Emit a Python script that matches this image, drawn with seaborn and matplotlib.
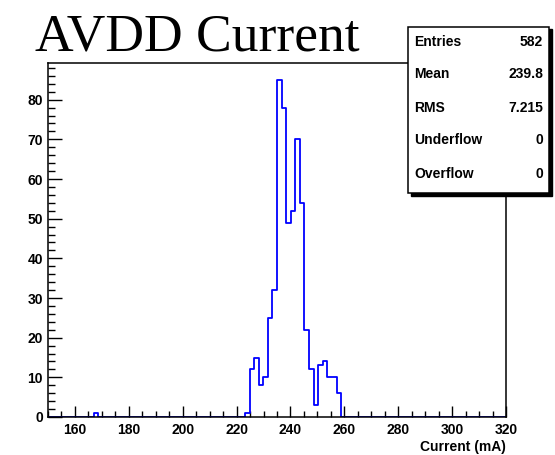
import matplotlib
matplotlib.use("Agg")
import matplotlib.pyplot as plt
import seaborn as sns
import numpy as np
import pandas as pd
from matplotlib.patches import Rectangle
from matplotlib.ticker import MultipleLocator

# ---- data ----
title = "AVDD Current"
x_label = "Current (mA)"
hist_range = (150, 320)
n_bins = 100
bin_centers = [167.85,
               223.95, 225.65, 227.35, 229.05, 230.75, 232.45, 234.15,
               235.85, 237.55, 239.25, 240.95, 242.65, 244.35, 246.05,
               247.75, 249.45, 251.15, 252.85, 254.55, 256.25, 257.95]
counts = [1,
          1, 12, 15, 8, 10, 25, 32,
          85, 78, 49, 52, 70, 54, 22,
          12, 3, 13, 14, 10, 10, 6]
stats_names = ["Entries", "Mean", "RMS", "Underflow", "Overflow"]
stats_values = ["582", "239.8", "7.215", "0", "0"]
x_ticks = [160, 180, 200, 220, 240, 260, 280, 300, 320]
y_ticks = [0, 10, 20, 30, 40, 50, 60, 70, 80]

# ---- style ----
sns.set_theme(style="white")
plt.rcParams['font.family'] = ['Liberation Sans', 'DejaVu Sans']

W, H = 555, 455
fig = plt.figure(figsize=(W / 100, H / 100), dpi=100)
fig.patch.set_facecolor("white")

ax_l, ax_r, ax_t, ax_b = 48, 506, 63, 417
ax = fig.add_axes([ax_l / W, (H - ax_b) / H, (ax_r - ax_l) / W, (ax_b - ax_t) / H])

df = pd.DataFrame({"current": bin_centers, "count": counts})
sns.histplot(data=df, x="current", weights="count", bins=n_bins,
             binrange=hist_range, element="step", fill=False,
             color="#0000ff", linewidth=1.3, ax=ax)

ax.set_xlim(*hist_range)
ax.set_ylim(0, max(counts) * 1.05)
ax.set_ylabel("")
ax.set_xticks(x_ticks)
ax.set_yticks(y_ticks)
ax.xaxis.set_minor_locator(MultipleLocator(5))
ax.yaxis.set_minor_locator(MultipleLocator(2))
ax.tick_params(axis='x', which='major', direction='in', length=8, width=1,
               color='black', labelsize=10, pad=4.5, bottom=True, top=False)
ax.tick_params(axis='x', which='minor', direction='in', length=4, width=1,
               color='black', bottom=True, top=False)
ax.tick_params(axis='y', which='major', direction='in', length=10, width=1,
               color='black', labelsize=10, pad=3.6, left=True, right=False)
ax.tick_params(axis='y', which='minor', direction='in', length=5, width=1,
               color='black', left=True, right=False)
for lab in ax.get_xticklabels() + ax.get_yticklabels():
    lab.set_fontweight('bold')
    lab.set_color('black')
for sp in ax.spines.values():
    sp.set_color('black')
    sp.set_linewidth(1.1)
    sp.set_visible(True)
ax.grid(False)

ax.set_xlabel(x_label, loc='right', fontsize=10, fontweight='bold',
              color='black', labelpad=2)

# ---- title ----
fig.text(35 / W, (H - 50.5) / H, title, family=['Liberation Serif', 'DejaVu Serif'],
         fontsize=38.5, color='black', ha='left', va='baseline')

# ---- stats box ----
bx0, by0, bx1, by1 = 408, 27, 549, 193
sh = 2.5
fig.patches.append(Rectangle(((bx0 + sh) / W, (H - by1 - sh) / H),
                             (bx1 - bx0) / W, (by1 - by0) / H,
                             transform=fig.transFigure, facecolor='black',
                             edgecolor='black', zorder=5))
fig.patches.append(Rectangle((bx0 / W, (H - by1) / H),
                             (bx1 - bx0) / W, (by1 - by0) / H,
                             transform=fig.transFigure, facecolor='white',
                             edgecolor='black', linewidth=1.1, zorder=6))
row_y = [41.7, 73.8, 107.5, 140.5, 173.5]
for name, val, yy in zip(stats_names, stats_values, row_y):
    fig.text(414 / W, (H - yy) / H, name, fontsize=10, fontweight='bold',
             ha='left', va='center', color='black', zorder=7)
    fig.text(543 / W, (H - yy) / H, val, fontsize=10, fontweight='bold',
             ha='right', va='center', color='black', zorder=7)

fig.savefig("out.png", dpi=100)
